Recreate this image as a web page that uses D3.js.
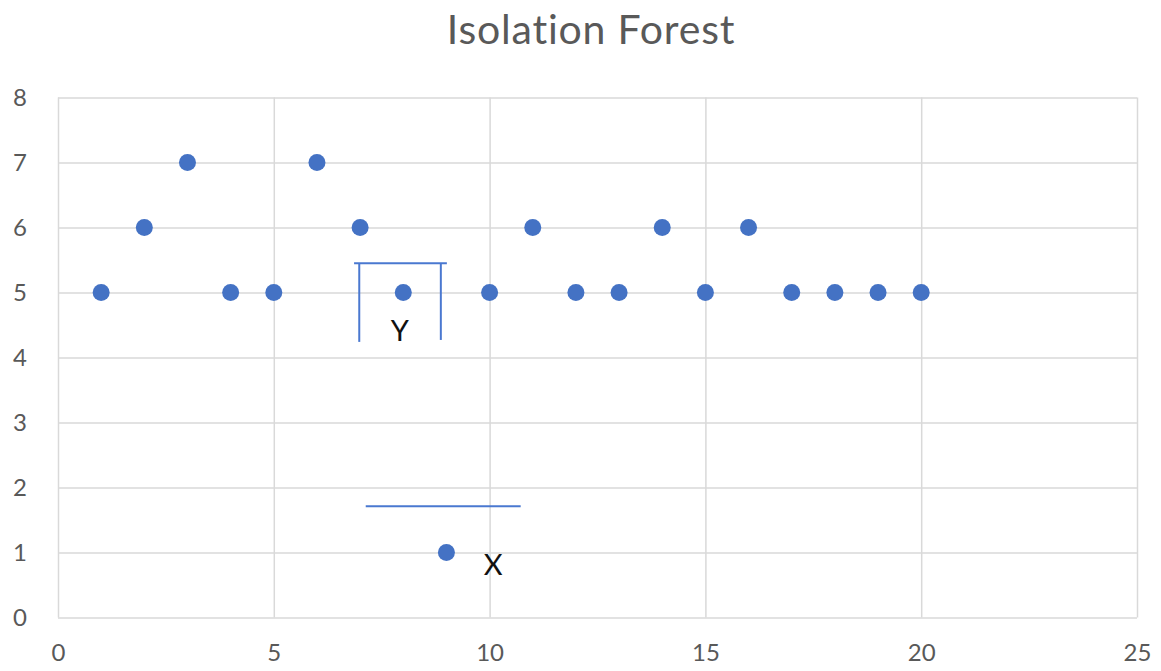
<!DOCTYPE html>
<html>
<head>
<meta charset="utf-8">
<script src="https://cdn.jsdelivr.net/npm/d3@7"></script>
<style>
  html, body { margin: 0; padding: 0; background: #fff; }
  svg { display: block; }
</style>
</head>
<body>
<svg id="chart" width="1161" height="671"></svg>
<script>
// Sample points
const xValues = [1, 2, 3, 4, 5, 6, 7, 8, 9, 10, 11, 12, 13, 14, 15, 16, 17, 18, 19, 20];
const yValues = [5, 6, 7, 5, 5, 7, 6, 5, 1, 5, 6, 5, 5, 6, 5, 6, 5, 5, 5, 5];

// Axis ticks
const xTicks = [0, 5, 10, 15, 20, 25];
const yTicks = [0, 1, 2, 3, 4, 5, 6, 7, 8];

// Isolation split lines (data units): [x1, y1, x2, y2]
const splitX = [[7.13, 1.71, 10.72, 1.71]];
const splitY = [
  [6.86, 5.45, 9.01, 5.45],
  [6.98, 5.45, 6.98, 4.24],
  [8.87, 5.45, 8.87, 4.27]
];

// Point labels
const labelText = ["Y", "X"];
const labelX = [7.92, 10.08];
const labelY = [4.41, 0.81];

const svg = d3.select("#chart");
const plotLeft = 58, plotRight = 1137, plotTop = 97.5, plotBottom = 617.5;

const x = d3.scaleLinear().domain([0, 25]).range([plotLeft, plotRight]);
const y = d3.scaleLinear().domain([0, 8]).range([plotBottom, plotTop]);

// Title
svg.append("text")
  .attr("x", 591).attr("y", 44)
  .attr("text-anchor", "middle")
  .attr("font-family", "Lato, 'Open Sans', sans-serif")
  .attr("font-size", 41)
  .attr("letter-spacing", 0.8)
  .attr("fill", "#595959")
  .text("Isolation Forest");

// Gridlines
svg.append("g")
  .attr("transform", `translate(0,${plotBottom})`)
  .call(d3.axisBottom(x).tickValues(xTicks).tickSize(-(plotBottom - plotTop)).tickFormat(""))
  .call(g => g.select(".domain").remove())
  .call(g => g.selectAll("line").attr("stroke", "#d9d9d9").attr("stroke-width", 1.5));

svg.append("g")
  .attr("transform", `translate(${plotLeft},0)`)
  .call(d3.axisLeft(y).tickValues(yTicks).tickSize(-(plotRight - plotLeft)).tickFormat(""))
  .call(g => g.select(".domain").remove())
  .call(g => g.selectAll("line").attr("stroke", "#d9d9d9").attr("stroke-width", 1.5));

// Tick labels
const xAxis = svg.append("g")
  .attr("transform", `translate(0,${plotBottom})`)
  .call(d3.axisBottom(x).tickValues(xTicks).tickSize(0).tickPadding(26));
xAxis.select(".domain").remove();
xAxis.selectAll("text")
  .attr("font-family", "Lato, 'Open Sans', sans-serif")
  .attr("font-size", 24).attr("fill", "#595959");

const yAxis = svg.append("g")
  .attr("transform", `translate(${plotLeft},0)`)
  .call(d3.axisLeft(y).tickValues(yTicks).tickSize(0).tickPadding(31));
yAxis.select(".domain").remove();
yAxis.selectAll("text")
  .attr("font-family", "Lato, 'Open Sans', sans-serif")
  .attr("font-size", 24).attr("fill", "#595959");

// Split lines
svg.append("g").selectAll("line")
  .data(splitX.concat(splitY))
  .join("line")
  .attr("x1", d => x(d[0])).attr("y1", d => y(d[1]))
  .attr("x2", d => x(d[2])).attr("y2", d => y(d[3]))
  .attr("stroke", "#4a78d0").attr("stroke-width", 2);

// Points
svg.append("g").selectAll("circle")
  .data(xValues.map((v, i) => [v, yValues[i]]))
  .join("circle")
  .attr("cx", d => x(d[0])).attr("cy", d => y(d[1]))
  .attr("r", 8.5)
  .attr("fill", "#4472C4");

// Labels
svg.append("g").selectAll("text")
  .data(labelText.map((t, i) => [t, labelX[i], labelY[i]]))
  .join("text")
  .attr("x", d => x(d[1])).attr("y", d => y(d[2]))
  .attr("dy", "0.35em")
  .attr("text-anchor", "middle")
  .attr("font-family", "Lato, 'Open Sans', sans-serif")
  .attr("font-size", 29)
  .attr("fill", "#111")
  .text(d => d[0]);
</script>
</body>
</html>
